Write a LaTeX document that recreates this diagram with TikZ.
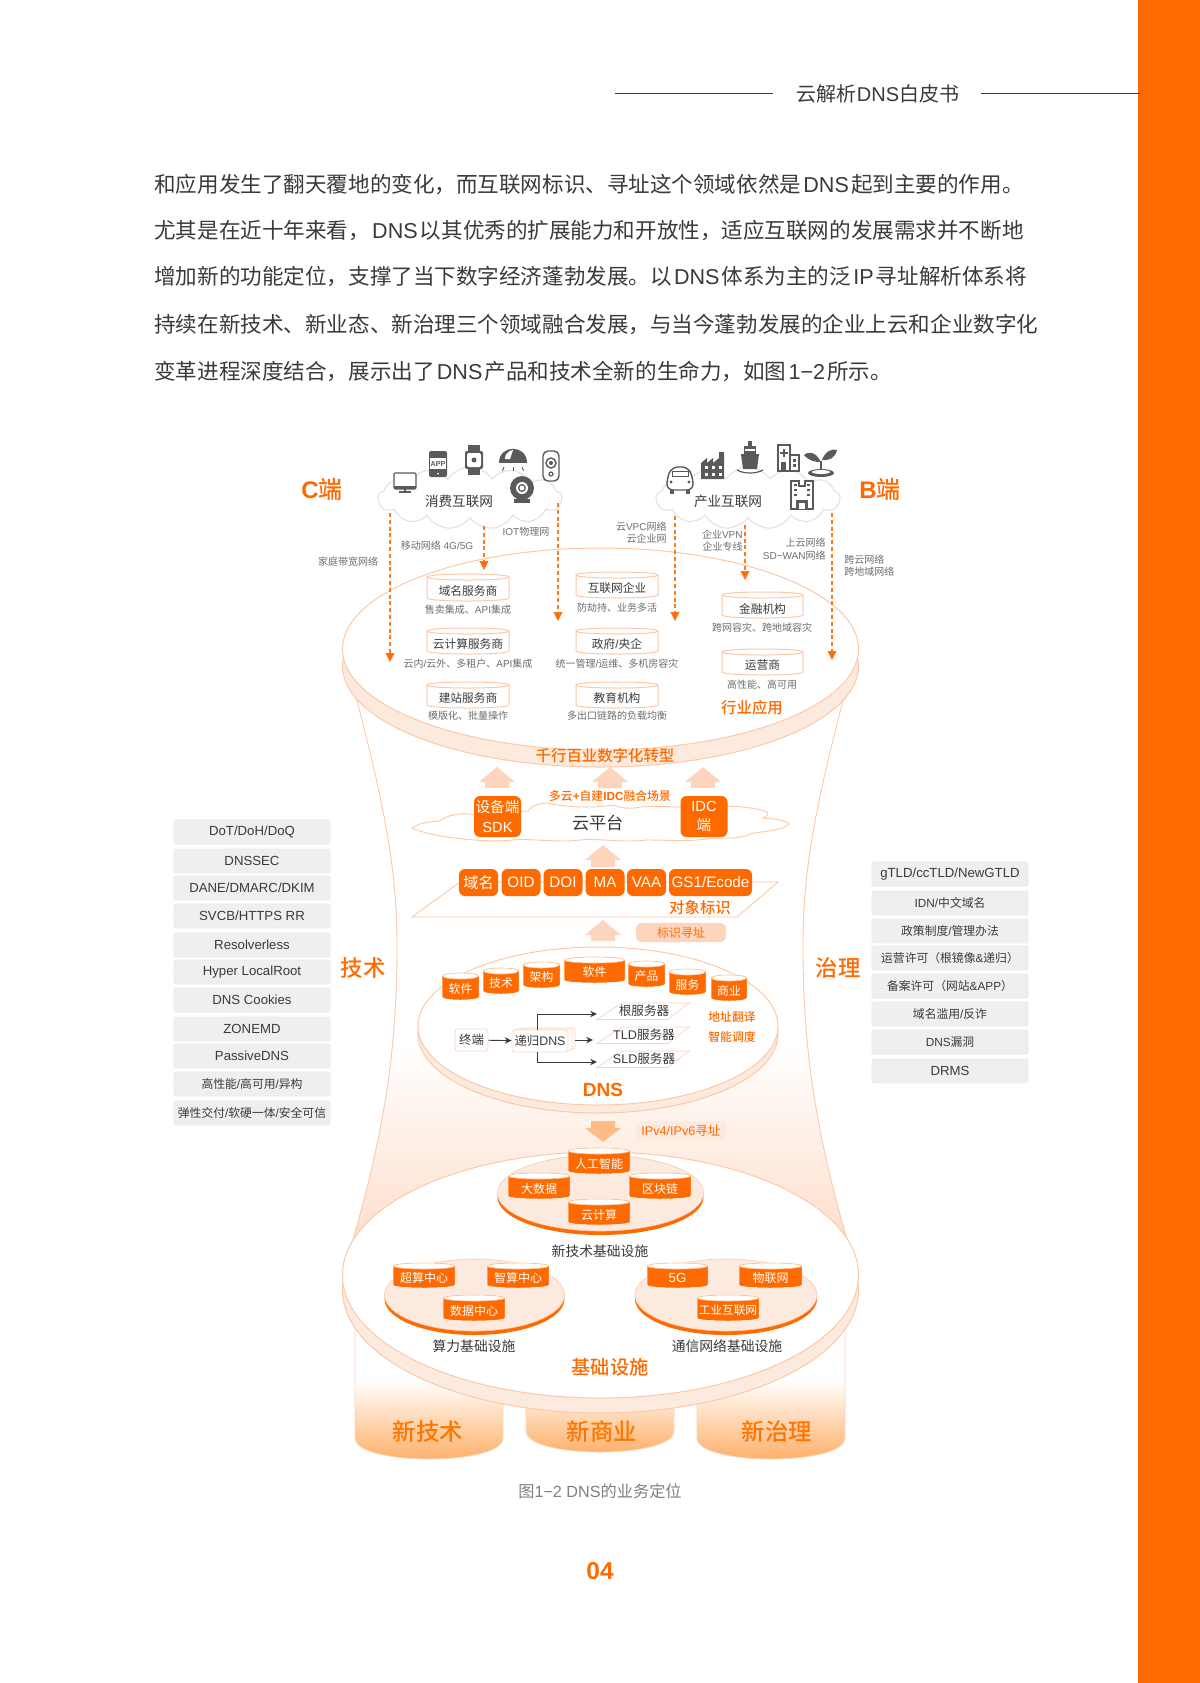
\documentclass[tikz,border=0pt]{standalone}
\usepackage{fontspec}
\setmainfont[BoldFont={Noto Sans CJK SC Medium}]{Noto Sans CJK SC}
\newfontfamily\latf{Liberation Sans}
\newcommand\LL[1]{{\latf #1}}
\newcommand\LB[1]{\kern1.1pt{\latf #1}\kern1.1pt}
\usetikzlibrary{arrows.meta,shapes.symbols,calc}
\definecolor{org}{HTML}{FF6A00}
\definecolor{pale}{HTML}{FDEADF}
\definecolor{peach}{HTML}{FDD5BC}
\definecolor{edgec}{HTML}{FCC9A8}
\definecolor{dark}{HTML}{3A3A3A}
\definecolor{subg}{HTML}{6E6E6E}
\definecolor{icong}{HTML}{5A5A5A}
\definecolor{chip}{HTML}{EFEFEF}
\newcommand\cjs{\fontsize{5.9}{6}\selectfont}
\tikzset{
  fs/.style={font=\fontsize{#1}{#1}\selectfont},
  fb/.style={font=\fontsize{#1}{#1}\selectfont\bfseries},
  lab/.style={inner sep=0pt,text=dark},
  sublab/.style={inner sep=0pt,text=subg,fs=5},
  olab/.style={inner sep=0pt,text=org},
  wlab/.style={inner sep=0pt,text=white},
  chipbox/.style={draw=black!8,fill=chip,rounded corners=1pt,inner sep=0pt,text=dark,fs=6.6,minimum width=78pt,minimum height=12pt},
  orgbox/.style={fill=org,rounded corners=3pt,inner sep=0pt,text=white},
  pill/.style={rounded corners=3pt,inner sep=0pt,minimum width=45pt,minimum height=9.7pt,text=org},
  wbox/.style={draw=peach,fill=white,rounded corners=1.5pt,inner sep=0pt,text=dark,fs=6.2},
  bline/.style={draw=edgec,line width=0.45pt},
  darr/.style={org!90!white,line width=0.55pt,dash pattern=on 2pt off 1.4pt,-{Triangle[length=4.5pt,width=4.5pt,fill=org]}},
  karr/.style={dark,line width=0.45pt,-{Stealth[length=3.4pt,width=3.2pt]}},
  cloudc/.style={cloud,draw=black!12,fill=white,line width=0.5pt,cloud puffs=13,cloud puff arc=115,inner sep=0pt},
  ic/.style={draw=icong,line width=0.55pt,fill=white},
  icf/.style={fill=icong},
}
% white cylinder with edge: name x1 x2 ytop ybot text
\newcommand\wcyl[6]{%
  \path[fill=white,draw=edgec,line width=0.5pt] (#2,#4+3) -- (#2,#5-3) .. controls (#2,#5+1) and (#3,#5+1) .. (#3,#5-3) -- (#3,#4+3) .. controls (#3,#4-1) and (#2,#4-1) .. (#2,#4+3) .. controls (#2,#4+7) and (#3,#4+7) .. (#3,#4+3);
  \node[lab,fs=5.85] (#1) at ({(#2+#3)/2},{#5-9.5}) {#6};}
% orange cylinder
\newcommand\ocyl[7][5.9]{%
  \path[fill=org,draw=white,line width=0.25pt] (#3,#5+3) -- (#3,#6-3) .. controls (#3,#6+1) and (#4,#6+1) .. (#4,#6-3) -- (#4,#5+3) .. controls (#4,#5-1) and (#3,#5-1) .. (#3,#5+3);
  \path[fill=white,draw=org!45!white,line width=0.3pt] (#3+0.5,#5+3) .. controls (#3+1,#5+7) and (#4-1,#5+7) .. (#4-0.5,#5+3) .. controls (#4-1,#5-1) and (#3+1,#5-1) .. (#3+0.5,#5+3);
  \node[wlab,fs=#1] (#2) at ({(#3+#4)/2},{(#5+#6)/2+2.5}) {#7};}
% up arrow
\newcommand\uparr[4][peach]{%
  \path[fill=#1] (#2,#3) -- (#2+18,#3+15) -- (#2+12,#3+15) -- (#2+12,#4) -- (#2-12,#4) -- (#2-12,#3+15) -- (#2-18,#3+15) -- cycle;}
% leg: x1 x2 ystart yend
\newcommand\legpart[4]{%
  \begin{scope}
  \clip (#1,#3) -- (#1,#4-22) .. controls (#1,#4+6) and (#2,#4+6) .. (#2,#4-22) -- (#2,#3) -- cycle;
  \fill[white] (#1,#3) rectangle (#2,#4+2);
  \shade[top color=white,bottom color=orange!45!peach] (#1,#3+50) rectangle (#2,#4+1);
  \end{scope}
  \path[draw=peach,line width=0.4pt] (#1,#3) -- (#1,#4-22) .. controls (#1,#4+6) and (#2,#4+6) .. (#2,#4-22) -- (#2,#3);}
\newcommand\dashar[4]{%
  \coordinate (#1s) at (#2,#3); \coordinate (#1e) at (#2,#4); \draw[darr] (#1s) -- (#1e);}
\begin{document}
\begin{tikzpicture}[x=0.5pt,y=-0.5pt]
\useasboundingbox (0,0) rectangle (1200,1683);
\fill[white] (0,0) rectangle (1200,1683);
\fill[org] (1138,0) rectangle (1200,1683);
% header
\node[lab,fs=10] (hdr) at (878,94) {云解析\LL{DNS}白皮书};
\coordinate (hl1) at (615,93); \coordinate (hl2) at (773,93); \coordinate (hr1) at (981,93); \coordinate (hr2) at (1140,93);
\draw[dark,line width=0.5pt] (hl1)--(hl2); \draw[dark,line width=0.5pt] (hr1)--(hr2);
% body
\foreach \nm/\yy/\tt in {p1/184/和应用发生了翻天覆地的变化，而互联网标识、寻址这个领域依然是\LB{DNS}起到主要的作用。,
 p2/231/尤其是在近十年来看，\LB{DNS}以其优秀的扩展能力和开放性，适应互联网的发展需求并不断地,
 p3/277/增加新的功能定位，支撑了当下数字经济蓬勃发展。以\LB{DNS}体系为主的泛\LB{IP}寻址解析体系将,
 p4/324/持续在新技术、新业态、新治理三个领域融合发展，与当今蓬勃发展的企业上云和企业数字化,
 p5/371/变革进程深度结合，展示出了\LB{DNS}产品和技术全新的生命力，如图\LB{1−2}所示。}
 {\node[lab,fs=10.78,anchor=west] (\nm) at (154,\yy) {\tt};}

% legs
\legpart{355}{503}{1330}{1460}
\legpart{526}{674}{1330}{1453}
\legpart{697}{845}{1330}{1460}
% hourglass body
\begin{scope}
\clip (355,693) .. controls (380,790) and (397,860) .. (397,945) .. controls (397,1050) and (385,1130) .. (350,1250)
  -- (850,1250) .. controls (815,1130) and (803,1050) .. (803,945) .. controls (803,860) and (820,790) .. (845,693) -- cycle;
\fill[white] (340,690) rectangle (860,1050);
\shade[top color=white,bottom color=peach!80!white] (340,1045) rectangle (860,1250);
\end{scope}
\draw[bline] (355,693) .. controls (380,790) and (397,860) .. (397,945) .. controls (397,1050) and (385,1130) .. (350,1250);
\draw[bline] (845,693) .. controls (820,790) and (803,860) .. (803,945) .. controls (803,1050) and (815,1130) .. (850,1250);
% top disc
\path[fill=pale,draw=edgec,line width=0.5pt] (600.5,666) ellipse [x radius=258,y radius=101];
\path[fill=white,draw=edgec,line width=0.5pt] (600.5,649) ellipse [x radius=258,y radius=101];
% bottom disc
\path[fill=pale,draw=edgec,line width=0.5pt] (600.5,1290) ellipse [x radius=258,y radius=123];
\path[fill=white,draw=edgec,line width=0.5pt] (600.5,1275) ellipse [x radius=258,y radius=123];

% side chips
\foreach \nm/\yy/\tt in {l1/832/\LL{DoT/DoH/DoQ},l2/861/\LL{DNSSEC},l3/888/\LL{DANE/DMARC/DKIM},l4/916/\LL{SVCB/HTTPS RR},l5/945/\LL{Resolverless},l6/972/\LL{Hyper LocalRoot},l7/1000/\LL{DNS Cookies},l8/1029/\LL{ZONEMD},l9/1056/\LL{PassiveDNS},l10/1084/{\cjs 高性能\LL{/}高可用\LL{/}异构},l11/1113/{\cjs 弹性交付\LL{/}软硬一体\LL{/}安全可信}}
 {\node[chipbox] (\nm) at (252,\yy) {\tt};}
\foreach \nm/\yy/\tt in {r1/874/\LL{gTLD/ccTLD/NewGTLD},r2/903/{\cjs \LL{IDN/}中文域名},r3/931/{\cjs 政策制度\LL{/}管理办法},r4/958/{\cjs 运营许可（根镜像\LL{\&}递归）},r5/986/{\cjs 备案许可（网站\LL{\&APP}）},r6/1014/{\cjs 域名滥用\LL{/}反诈},r7/1042/{\cjs \LL{DNS}漏洞},r8/1071/\LL{DRMS}}
 {\node[chipbox] (\nm) at (950,\yy) {\tt};}
\node[olab,fb=11.2] (tech) at (363,968) {技术};
\node[olab,fb=11.2] (gov) at (838,968) {治理};
\node[olab,fb=12] (cduan) at (322,489) {\LL{C}端};
\node[olab,fb=12] (bduan) at (880,489) {\LL{B}端};

% clouds
\node[cloudc,aspect=2.9,minimum width=92pt,minimum height=31pt] (cloudA) at (470,498) {};
\node[cloudc,aspect=2.9,minimum width=92pt,minimum height=31pt] (cloudB) at (748,498) {};
\node[lab,fs=6.8] (ca) at (459,501) {消费互联网};
\node[lab,fs=6.8] (cb) at (728,501) {产业互联网};
% icons left
\begin{scope}[shift={(405,482)}]
 \draw[ic,rounded corners=0.6pt] (-11,-9) rectangle (11,7); \fill[icong] (-11,4) rectangle (11,7); \draw[icong,line width=0.7pt] (-6,10)--(6,10); \draw[icong,line width=0.7pt] (0,7)--(0,10);
\end{scope}
\begin{scope}[shift={(438,464)}]
 \fill[icong,rounded corners=1pt] (-9,-13) rectangle (9,13); \fill[white] (-8,-6) rectangle (8,5);
 \node[inner sep=0pt,text=icong,font=\fontsize{3.6}{4}\selectfont\bfseries] (apptxt) at (0,0) {\LL{APP}};
 \fill[white] (0,9.5) circle [radius=1];
\end{scope}
\begin{scope}[shift={(474,460)}]
 \fill[icong] (-6,-15) rectangle (6,15);
 \fill[icong,rounded corners=1pt] (-9,-9) rectangle (9,9); \fill[white,rounded corners=1pt] (-7,-7) rectangle (7,7); \fill[icong] (0,0) circle [radius=2.5];
\end{scope}
\begin{scope}[shift={(513,461)}]
 \fill[icong] (-14,2) .. controls (-14,-17) and (14,-17) .. (14,2) -- cycle;
 \fill[white] (-8,-2) .. controls (-8,-10) and (0,-11) .. (0,-11) -- (-3,-2) -- cycle;
 \draw[icong,line width=0.5pt,dash pattern=on 2pt off 1.6pt] (-9,6)--(-11,11); \draw[icong,line width=0.5pt,dash pattern=on 2pt off 1.6pt] (9,6)--(11,11); \draw[icong,line width=0.5pt,dash pattern=on 2pt off 1.6pt] (0,6)--(0,12);
\end{scope}
\begin{scope}[shift={(551,466)}]
 \draw[ic,rounded corners=2.5pt,line width=0.7pt] (-8,-15) rectangle (8,15); \draw[icong,line width=0.7pt] (0,-3) circle [radius=5]; \fill[icong] (0,-3) circle [radius=2]; \draw[icong,line width=0.6pt] (0,8) circle [radius=2];
\end{scope}
\begin{scope}[shift={(522,489)}]
 \fill[icong] (0,-1) circle [radius=12]; \fill[white] (0,-1) circle [radius=6]; \fill[icong] (0,-1) circle [radius=4]; \fill[white] (0,-1) circle [radius=2.5];
 \fill[icong] (-8,10) rectangle (8,14);
\end{scope}
% icons right
\begin{scope}[shift={(680,480)}]
 \draw[ic,rounded corners=3pt,line width=0.7pt] (-13,-2) -- (-8,-13) -- (8,-13) -- (13,-2) -- (13,10) -- (-13,10) -- cycle;
 \draw[icong,line width=0.5pt,fill=white] (-8,-9) rectangle (8,-4); \fill[icong] (-9,2) circle [radius=1.6]; \fill[icong] (9,2) circle [radius=1.6]; \fill[icong] (-10,10) rectangle (-6,14); \fill[icong] (6,10) rectangle (10,14);
\end{scope}
\begin{scope}[shift={(713,467)}]
 \fill[icong] (-12,12) -- (-12,-4) -- (-6,-9) -- (-6,-4) -- (0,-9) -- (0,-4) -- (6,-9) -- (6,-15) -- (11,-15) -- (11,12) -- cycle;
 \foreach \a in {-8,-1,6}{\foreach \b in {-1,6}{\fill[white] (\a,\b) rectangle (\a+3,\b+3);}}
\end{scope}
\begin{scope}[shift={(750,456)}]
 \fill[icong] (-9,-2) -- (9,-2) -- (7,13) -- (-7,13) -- cycle; \fill[icong] (-6,-10) rectangle (6,-2); \fill[icong] (-2,-15) rectangle (2,-10);
 \fill[white] (-5,-7) rectangle (5,-5);
 \draw[icong,line width=0.6pt] (-13,14) .. controls (-6,18) and (6,18) .. (13,14);
\end{scope}
\begin{scope}[shift={(787,458)}]
 \draw[ic,line width=0.6pt] (-9,-13) rectangle (3,13); \draw[ic,line width=0.6pt] (3,-3) rectangle (12,13);
 \fill[icong] (-4.5,-9) rectangle (-2.5,-1); \fill[icong] (-7.5,-6) rectangle (0.5,-4); \fill[icong] (-6,4) rectangle (-1,13);
 \foreach \b in {1,6}{\fill[icong] (6,\b) rectangle (9,\b+2.5);}
\end{scope}
\begin{scope}[shift={(821,464)}]
 \fill[icong] (0,-2) .. controls (-6,-14) and (-14,-12) .. (-17,-9) .. controls (-12,-3) and (-6,-2) .. (0,-2);
 \fill[icong] (1,-4) .. controls (4,-12) and (10,-16) .. (16,-14) .. controls (14,-6) and (8,-3) .. (1,-4);
 \draw[icong,line width=0.7pt] (0,-3)--(0,8);
 \fill[icong] (0,9) ellipse [x radius=13,y radius=4]; \fill[white] (0,8) ellipse [x radius=9,y radius=2];
\end{scope}
\begin{scope}[shift={(802,495)}]
 \draw[ic,line width=0.7pt] (-11,-14) -- (-3,-14) -- (-3,-9) -- (3,-9) -- (3,-14) -- (11,-14) -- (11,14) -- (-11,14) -- cycle;
 \foreach \b in {-10,-5,0}{\draw[icong,line width=0.6pt] (-8,\b)--(-5,\b); \draw[icong,line width=0.6pt] (5,\b)--(8,\b);}
 \fill[icong] (-6,5) rectangle (6,14); \fill[white] (-3,8) rectangle (3,14);
\end{scope}

% top cylinders
\wcyl{c1}{427}{509}{574}{601}{域名服务商}
\wcyl{c2}{427}{509}{628}{654}{云计算服务商}
\wcyl{c3}{427}{509}{682}{708}{建站服务商}
\wcyl{c4}{576}{658}{572}{598}{互联网企业}
\wcyl{c5}{576}{658}{628}{654}{政府\LL{/}央企}
\wcyl{c6}{576}{658}{682}{708}{教育机构}
\wcyl{c7}{722}{803}{592}{618}{金融机构}
\wcyl{c8}{722}{803}{649}{675}{运营商}
\node[sublab] (s1) at (468,610) {售卖集成、\LL{API}集成};
\node[sublab] (s2) at (468,664) {云内\LL{/}云外、多租户、\LL{API}集成};
\node[sublab] (s3) at (468,716) {模版化、批量操作};
\node[sublab] (s4) at (617,608) {防劫持、业务多活};
\node[sublab] (s5) at (617,664) {统一管理\LL{/}运维、多机房容灾};
\node[sublab] (s6) at (617,716) {多出口链路的负载均衡};
\node[sublab] (s7) at (762,628) {跨网容灾、跨地域容灾};
\node[sublab] (s8) at (762,685) {高性能、高可用};
\node[olab,fb=7.7] (hyyy) at (752,708) {行业应用};
\node[olab,fb=7.7] (qhby) at (605,756) {千行百业数字化转型};

% dashed arrows
\dashar{a1}{390}{513}{662}
\dashar{a2}{484}{526}{570}
\dashar{a3}{558}{503}{621}
\dashar{a4}{675}{516}{621}
\dashar{a5}{745}{525}{580}
\dashar{a6}{832}{513}{660}
\node[sublab] (t1) at (348,562) {家庭带宽网络};
\node[sublab] (t2) at (437,546) {移动网络\LL{ 4G/5G}};
\node[sublab] (t3) at (526,532) {\LL{IOT}物理网};
\node[sublab,align=right,anchor=east,font=\fontsize{5}{6.3}\selectfont] (t4) at (667,532.5) {云\LL{VPC}网络\\云企业网};
\node[sublab,align=right,anchor=east,font=\fontsize{5}{6}\selectfont] (t5) at (743,540.5) {企业\LL{VPN}\\企业专线};
\node[sublab,align=right,anchor=east,font=\fontsize{5}{6.3}\selectfont] (t6) at (826,549) {上云网络\\\LL{SD−WAN}网络};
\node[sublab,align=left,anchor=west,font=\fontsize{5}{6.3}\selectfont] (t7) at (844,565.5) {跨云网络\\跨地域网络};

% cloud platform
\uparr{497}{767}{788}
\uparr{610}{767}{788}
\uparr{703}{767}{788}
\path[fill=white,draw=edgec,line width=0.45pt] (412,828)
 .. controls (420,822) and (430,822) .. (440,821) .. controls (445,815) and (465,812) .. (473,815)
 .. controls (490,810) and (520,812) .. (528,811) .. controls (532,805) and (540,803) .. (547,803)
 .. controls (570,808) and (595,808) .. (613,805) .. controls (625,810) and (635,808) .. (640,807)
 .. controls (660,805) and (680,808) .. (690,807) .. controls (710,805) and (750,805) .. (767,812)
 .. controls (770,815) and (765,817) .. (763,818) .. controls (775,819) and (785,820) .. (789,824)
 .. controls (785,830) and (760,832) .. (753,833) .. controls (740,840) and (720,838) .. (713,838)
 .. controls (690,842) and (670,840) .. (647,840) .. controls (620,843) and (600,838) .. (580,840)
 .. controls (555,843) and (530,838) .. (513,840) .. controls (490,842) and (470,840) .. (447,837)
 .. controls (435,835) and (420,832) .. (412,828) -- cycle;
\node[orgbox,fs=7.3,minimum width=23.5pt,minimum height=20.5pt,align=center,font=\fontsize{7.3}{9.6}\selectfont] (sdk) at (497.5,816.5) {设备端\\\LL{SDK}};
\node[orgbox,minimum width=23.5pt,minimum height=20.5pt,align=center,font=\fontsize{7.3}{9.6}\selectfont] (idc) at (704,816.5) {\LL{IDC}\\端};
\node[lab,fs=8.6] (yunp) at (598,823) {云平台};
\node[olab,fb=5.9] (dy) at (610,796) {多云\LL{+}自建\LL{IDC}融合场景};
\uparr{603}{845}{867}

% object id plane
\path[bline,fill=white] (412,917) -- (460,882) -- (778,882) -- (737,917) -- cycle;
\foreach \nm/\xx/\ww/\tt in {b1/478.5/19.5/域名,b2/521/19.5/\LL{OID},b3/563/19.5/\LL{DOI},b4/605/19.5/\LL{MA},b5/646.5/19.5/\LL{VAA},b6/710.5/41.5/\LL{GS1/Ecode}}
 {\node[orgbox,fs=7.6,minimum width=\ww pt,minimum height=13.5pt] (\nm) at (\xx,882.5) {\tt};}
\node[olab,fb=7.7] (dxbs) at (700,908) {对象标识};
\uparr{603}{920}{941}
\node[pill,fill=peach,fb=6,text=org!85!white] (bsxz) at (681,932.5) {标识寻址};

% DNS disc
\path[fill=pale,draw=edgec,line width=0.5pt] (598,1034) ellipse [x radius=180,y radius=79];
\path[fill=white,draw=edgec,line width=0.5pt] (598,1026) ellipse [x radius=180,y radius=79];
\ocyl{d1}{442}{479}{973}{1000}{软件}
\ocyl{d2}{483}{519}{968}{994}{技术}
\ocyl{d3}{523}{560}{962}{988}{架构}
\ocyl{d4}{564}{625}{957}{983}{软件}
\ocyl{d5}{628}{665}{961}{987}{产品}
\ocyl{d6}{669}{706}{969}{995}{服务}
\ocyl{d7}{711}{747}{975}{1001}{商业}
\node[wbox,minimum width=16.5pt,minimum height=11pt] (term) at (471.5,1040) {终端};
\path[fill=white,draw=peach,line width=0.4pt,rounded corners=1pt] (520,1028) rectangle (575,1049);
\path[fill=white,draw=peach,line width=0.4pt,rounded corners=1pt] (516,1029) rectangle (572,1050.5);
\node[wbox,minimum width=28pt,minimum height=11pt] (rec) at (540,1041) {递归\LL{DNS}};
\draw[karr] (term) -- (rec);
\foreach \nm/\yy/\tt in {root/1003/根服务器,tld/1027/\LL{TLD}服务器,sld/1051/\LL{SLD}服务器}
 {\path[fill=white,draw=peach,line width=0.4pt] (597,\yy+16.5) -- (622,\yy) -- (689,\yy) -- (668,\yy+16.5) -- cycle;
  \node[lab,fs=6.3] (\nm) at (644,\yy+8) {\tt};
  \coordinate (\nm W) at (597,\yy+11);}
\coordinate (recE) at (575,1040); \coordinate (tldE) at (593,1040);
\coordinate (recN) at (537,1030); \coordinate (recS) at (537,1052);
\draw[karr] (recE) -- (tldE);
\draw[karr] (recN) |- (rootW);
\draw[karr] (recS) |- (sldW);
\node[olab,fb=5.9] (dz) at (732,1017) {地址翻译};
\node[olab,fb=5.9] (zn) at (732,1037) {智能调度};
\node[olab,fb=9.5] (dnst) at (603,1090) {\LL{DNS}};
% down arrow & pill
\path[fill=orange!30!peach] (591,1121) -- (615,1121) -- (615,1128) -- (621,1128) -- (603,1142) -- (585,1128) -- (591,1128) -- cycle;
\node[pill,fill=pale,fs=6.3] (ipv) at (681,1131) {\LL{IPv4/IPv6}寻址};

% platforms
\newcommand\plat[4]{% cx cy rx ry
 \path[fill=org] (#1,#2+4) ellipse [x radius=#3,y radius=#4];
 \path[fill=pale,draw=edgec,line width=0.3pt] (#1,#2) ellipse [x radius=#3,y radius=#4];}
\plat{600.5}{1193}{103}{38}
\plat{474.5}{1295}{90}{36}
\plat{726}{1295}{91}{36}
\ocyl[6]{e1}{568}{630}{1148}{1174}{人工智能}
\ocyl[6]{e2}{508}{570}{1173}{1199}{大数据}
\ocyl[6]{e3}{629}{691}{1173}{1199}{区块链}
\ocyl[6]{e4}{568}{630}{1199}{1225}{云计算}
\ocyl[6]{f1}{393}{455}{1263}{1288}{超算中心}
\ocyl[6]{f2}{487}{549}{1263}{1288}{智算中心}
\ocyl[6]{f3}{443}{505}{1295}{1321}{数据中心}
\ocyl[6.6]{g1}{647}{708}{1263}{1288}{\LL{5G}}
\ocyl[6]{g2}{739}{802}{1263}{1288}{物联网}
\ocyl[5.8]{g3}{697}{759}{1295}{1321}{工业互联网}
\node[lab,fs=6.9] (xjs) at (600,1251) {新技术基础设施};
\node[lab,fs=6.9] (slj) at (474,1346) {算力基础设施};
\node[lab,fs=6.9] (txw) at (727,1346) {通信网络基础设施};
\node[olab,fb=9.6] (jcss) at (610,1367) {基础设施};
\node[inner sep=0pt,fb=11.7,text=orange!50!org] (n1) at (428,1432) {新技术};
\node[inner sep=0pt,fb=11.7,text=orange!50!org] (n2) at (602,1432) {新商业};
\node[inner sep=0pt,fb=11.7,text=orange!50!org] (n3) at (777,1432) {新治理};
\node[inner sep=0pt,fs=8.1,text=black!50] (cap) at (600,1491) {图\LL{1−2 DNS}的业务定位};
\node[olab,fb=12.2] (pg) at (600,1571) {\LL{04}};
\end{tikzpicture}
\end{document}
